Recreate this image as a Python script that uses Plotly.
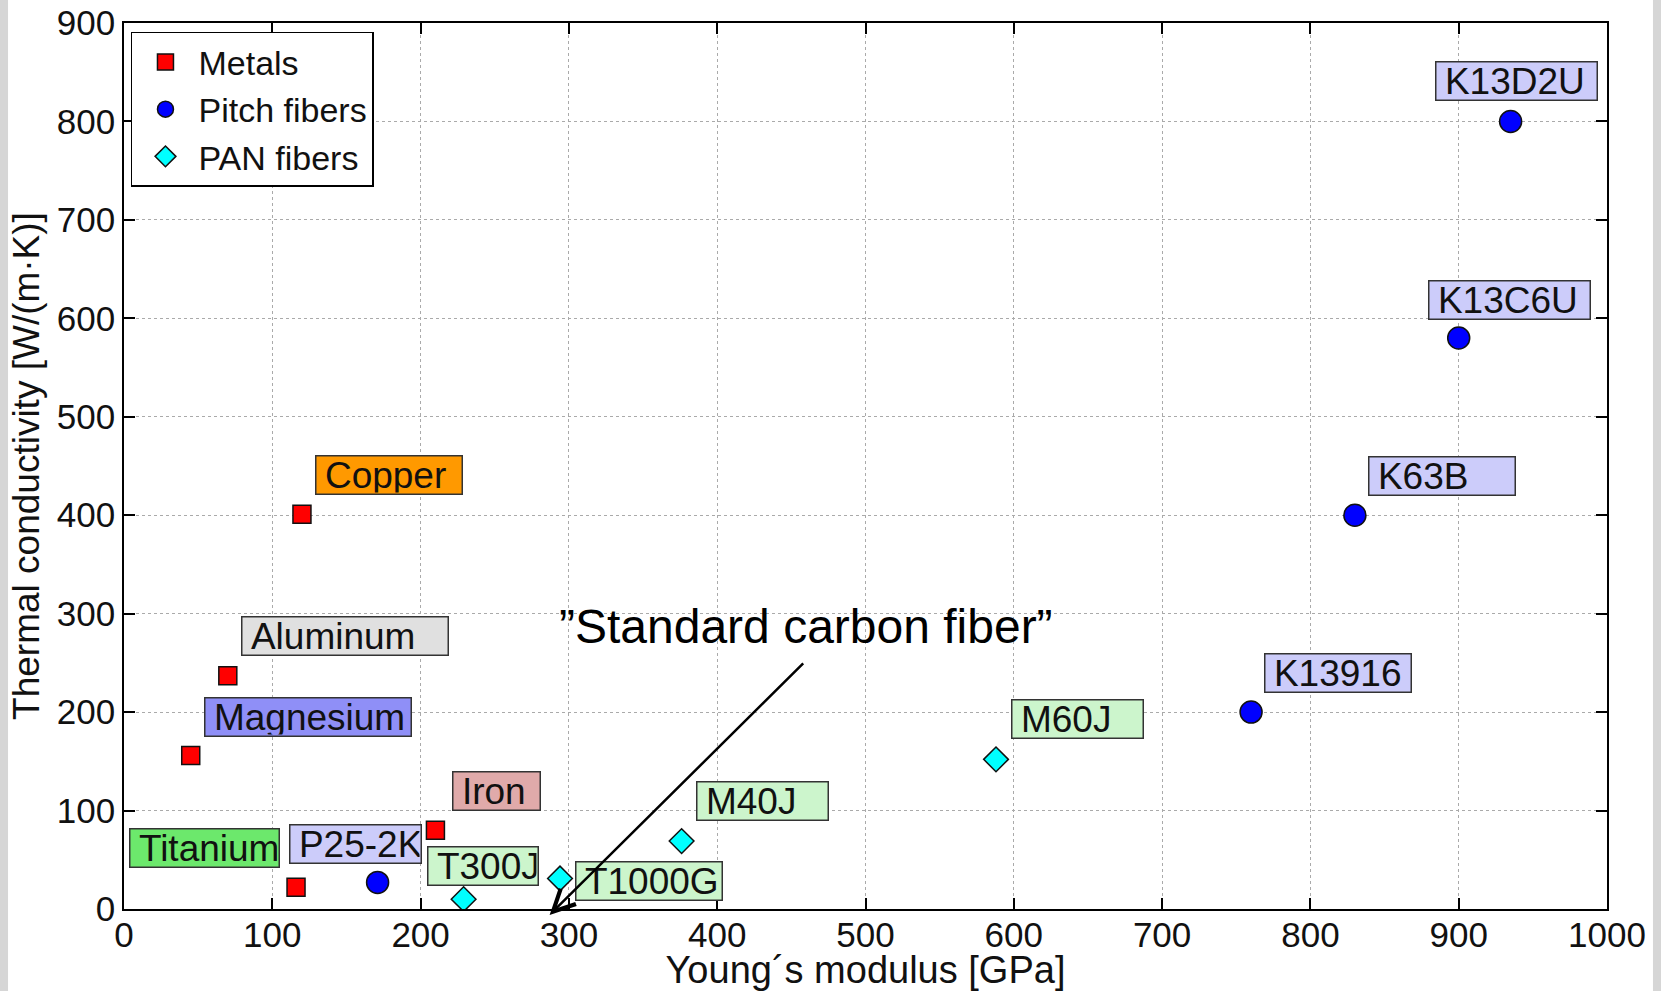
import plotly.graph_objects as go

# ---------------- data ----------------
metal_names = ["Copper", "Aluminum", "Magnesium", "Iron", "Titanium"]
metal_E = [120, 70, 45, 210, 116]
metal_k = [401, 237, 156, 80, 22]

pitch_names = ["P25-2K", "K13916", "K63B", "K13C6U", "K13D2U"]
pitch_E = [171, 760, 830, 900, 935]
pitch_k = [27, 200, 400, 580, 800]

pan_names = ["T300J", "T1000G", "M40J", "M60J"]
pan_E = [229, 294, 376, 588]
pan_k = [10, 31, 69, 152]

x_ticks = [0, 100, 200, 300, 400, 500, 600, 700, 800, 900, 1000]
y_ticks = [0, 100, 200, 300, 400, 500, 600, 700, 800, 900]

# ---------------- label styling (box anchor in data units, width px, colour) ----------------
label_style = {
    "Copper":    (129, 441, 148, "#ff9900"),
    "Aluminum":  (79, 277, 208, "#e0e0e0"),
    "Magnesium": (54, 195, 208, "#8f8ff7"),
    "Iron":      (221, 120, 89, "#e0aaaa"),
    "Titanium":  (3.6, 62, 151, "#6ce86c"),
    "P25-2K":    (111, 66, 133, "#ccccfa"),
    "K13916":    (769, 240, 148, "#ccccfa"),
    "K63B":      (839, 440, 148, "#ccccfa"),
    "K13C6U":    (879, 619, 163, "#ccccfa"),
    "K13D2U":    (884, 841, 163, "#ccccfa"),
    "T300J":     (204, 44, 112, "#ccf5cc"),
    "T1000G":    (304, 28, 148, "#ccf5cc"),
    "M40J":      (386, 110, 133, "#ccf5cc"),
    "M60J":      (598, 193, 133, "#ccf5cc"),
}

FONT = "Liberation Sans, Arial, Helvetica, sans-serif"
fig = go.Figure()

fig.add_trace(go.Scatter(
    x=metal_E, y=metal_k, mode="markers", name="Metals",
    marker=dict(symbol="square", size=18, color="#ff0000",
                line=dict(color="#111111", width=1.5)),
))
fig.add_trace(go.Scatter(
    x=pitch_E, y=pitch_k, mode="markers", name="Pitch fibers",
    marker=dict(symbol="circle", size=22, color="#0000ff",
                line=dict(color="#111111", width=1.5)),
))
fig.add_trace(go.Scatter(
    x=pan_E, y=pan_k, mode="markers", name="PAN fibers",
    marker=dict(symbol="diamond", size=19, color="#00ffff",
                line=dict(color="#111111", width=1.5)),
))

annotations = []
for name in metal_names + pitch_names + pan_names:
    lx, ly, w, col = label_style[name]
    annotations.append(dict(
        x=lx, y=ly, xref="x", yref="y", xanchor="left", yanchor="middle",
        text="\u2009" + name, showarrow=False, align="left",
        width=w - 5, height=35, borderpad=1,
        bgcolor=col, bordercolor="#333333", borderwidth=1.5,
        font=dict(family=FONT, size=37, color="#111111"),
    ))

annotations.append(dict(
    x=460, y=287, xref="x", yref="y", text="\u201dStandard carbon fiber\u201d",
    showarrow=False, font=dict(family=FONT, size=48, color="black"),
))
annotations.append(dict(
    x=287, y=-6, xref="x", yref="y", ax=459, ay=251, axref="x", ayref="y",
    text="", showarrow=True, arrowhead=5, arrowsize=1.7, arrowwidth=2.5,
    arrowcolor="black", standoff=0,
))

axis_common = dict(
    showline=True, linecolor="black", linewidth=1.5, mirror="allticks",
    ticks="inside", ticklen=11, tickwidth=1.5, tickcolor="black",
    showgrid=True, gridcolor="#aaaaaa", gridwidth=1, griddash="dot",
    zeroline=False, automargin=False,
    tickfont=dict(family=FONT, size=35, color="#111111"),
)

fig.update_layout(
    template="none",
    width=1661, height=991,
    margin=dict(l=124, r=54, t=23, b=82),
    paper_bgcolor="white", plot_bgcolor="white",
    xaxis=dict(range=[0, 1000], tickvals=x_ticks, ticklabelstandoff=-6,
               title=dict(text="Young\u00b4s modulus [GPa]", standoff=7,
                          font=dict(family=FONT, size=38, color="#111111")),
               **axis_common),
    yaxis=dict(range=[0, 900], tickvals=y_ticks,
               title=dict(text="Thermal conductivity [W/(m\u00b7K)]", standoff=6,
                          font=dict(family=FONT, size=37, color="#111111")),
               **axis_common),
    legend=dict(x=0.0047, y=0.99, xanchor="left", yanchor="top",
                bgcolor="white", bordercolor="black", borderwidth=1.5,
                font=dict(family=FONT, size=34, color="#111111"),
                tracegroupgap=0, itemwidth=56),
    showlegend=True,
    annotations=annotations,
    shapes=[
        dict(type="rect", xref="paper", yref="paper", x0=-0.0836, x1=-0.0782,
             y0=-0.2, y1=1.1, fillcolor="#d6d6d6", line=dict(width=0), layer="below"),
        dict(type="rect", xref="paper", yref="paper", x0=1.031, x1=1.04,
             y0=-0.2, y1=1.1, fillcolor="#d6d6d6", line=dict(width=0), layer="below"),
    ],
)

fig.write_html("out.html")
